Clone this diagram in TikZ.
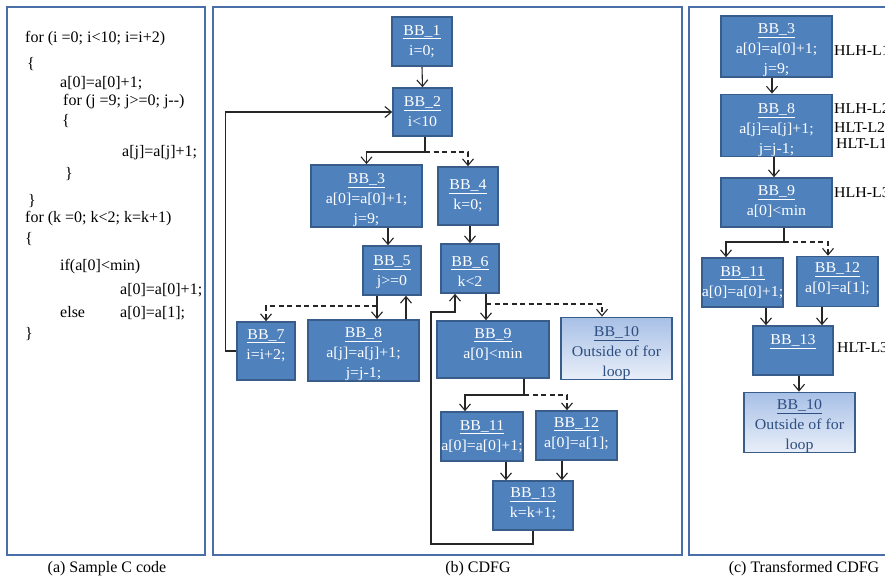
\documentclass[tikz,border=0pt]{standalone}
\usepackage{fontspec}
\setmainfont{Liberation Serif}
\newfontfamily\nodeface{Liberation Serif}[FakeStretch=1.06]
\usetikzlibrary{arrows.meta}

\definecolor{bbfill}{HTML}{4F81BD}
\definecolor{bbline}{HTML}{385D8A}
\definecolor{framecol}{HTML}{4A6EA8}
\definecolor{outtop}{HTML}{A8C0E6}
\definecolor{outbot}{HTML}{E9EFF9}
\definecolor{outtext}{HTML}{2E4F80}

\newcommand\nodefont{\nodeface\fontsize{15}{20}\selectfont}
\newcommand\codefont{\fontsize{16}{20}\selectfont}
% block title: underlined name, with a strut that sets the first line's height
\newcommand\hd[2][16pt]{\rule{0pt}{#1}\underline{BB\_#2}}

\begin{document}
\begin{tikzpicture}[x=1pt,y=-1pt,
  panel/.style={draw=framecol, line width=1.6pt},
  bb/.style={draw=bbline, fill=bbfill, line width=1.6pt, text=white,
    align=center, inner sep=0pt, font=\nodefont},
  outbox/.style={draw=bbline, line width=1.6pt, top color=outtop,
    bottom color=outbot, text=outtext, align=center, inner sep=0pt, font=\nodefont},
  sz/.style 2 args={minimum width=#1, minimum height=#2},
  lift/.style={text depth=#1},
  code/.style={anchor=base west, inner sep=0pt, font=\codefont},
  caption/.style={anchor=base, inner sep=0pt, font=\codefont},
  tag/.style={anchor=base west, inner sep=0pt, font=\nodefont},
  wire/.style={draw=black!85, line width=1.1pt},
  arr/.style={wire, -{Straight Barb[length=6.5pt,width=11pt]}},
  darr/.style={arr, dash pattern=on 5pt off 3.5pt},
]
\useasboundingbox (0,0) rectangle (885,581);
\fill[white] (0,0) rectangle (885,581);

% ---------- panel frames ----------
\draw[panel] (7,7) rectangle (205,555);
\draw[panel] (213,7) rectangle (682,555);
\draw[panel] (689,7) rectangle (900,555);

% ---------- (a) source code ----------
\node[code] (a1)  at (25,42)  {for (i =0; i<10; i=i+2)};
\node[code] (a2)  at (27,68)  {\{};
\node[code] (a3)  at (60,87)  {a[0]=a[0]+1;};
\node[code] (a4)  at (63,105) {for (j =9; j>=0; j-{}-)};
\node[code] (a5)  at (62,125) {\{};
\node[code] (a6)  at (122,156) {a[j]=a[j]+1;};
\node[code] (a7)  at (65,178) {\}};
\node[code] (a8)  at (28,205) {\}};
\node[code] (a9)  at (25,222) {for (k =0; k<2; k=k+1)};
\node[code] (a10) at (25,243) {\{};
\node[code] (a11) at (60,270) {if(a[0]<min)};
\node[code] (a12) at (120,294) {a[0]=a[0]+1;};
\node[code] (a13) at (60,317) {else};
\node[code] (a14) at (120,317) {a[0]=a[1];};
\node[code] (a15) at (25,338) {\}};

% ---------- (b) CDFG ----------
\node[bb, sz={60}{49}]  (b1)  at (422,41.5)  {\hd[10pt]{1}\\i=0;};
\node[bb, sz={59}{48}]  (b2)  at (422.5,112) {\hd[10pt]{2}\\i<10};
\node[bb, sz={111}{58}] (b3)  at (366.5,196) {\hd[19pt]{3}\\a[0]=a[0]+1;\\j=9;};
\node[bb, sz={60}{58}]  (b4)  at (468,196)   {\hd[10pt]{4}\\k=0;};
\node[bb, sz={58}{49}]  (b5)  at (392,270.5) {\hd[14pt]{5}\\j>=0};
\node[bb, sz={58}{49}]  (b6)  at (470,268.5) {\hd[15pt]{6}\\k<2};
\node[bb, sz={58}{58}, lift=20pt] (b7) at (266,351) {\hd{7}\\i=i+2;};
\node[bb, sz={111}{59}] (b8)  at (363.5,350.5) {\hd[18pt]{8}\\a[j]=a[j]+1;\\j=j-1;};
\node[bb, sz={112}{57}, lift=19pt] (b9) at (493,349.5) {\hd{9}\\a[0]<min};
\node[outbox, sz={111}{57}] (b10) at (616.5,348.5) {\hd[19pt]{10}\\Outside of for\\loop};
\node[bb, sz={82}{49}]  (b11) at (482,436.5) {\hd[10pt]{11}\\a[0]=a[0]+1;};
\node[bb, sz={81}{49}, lift=13pt] (b12) at (576.5,435.5) {\hd{12}\\a[0]=a[1];};
\node[bb, sz={80}{49}, lift=12pt] (b13) at (533,505.5) {\hd{13}\\k=k+1;};

% branch points and wire columns
\coordinate (j2)   at (425,152);
\coordinate (x35)  at (388,0);
\coordinate (j5)   at (377,306);
\coordinate (x85)  at (406,0);
\coordinate (j6)   at (486,304);
\coordinate (x610) at (602,0);
\coordinate (j9)   at (524,395);
\coordinate (x911) at (465,0);
\coordinate (x912) at (567,0);
\coordinate (x1113) at (506,0);
\coordinate (x1213) at (562,0);
\coordinate (l1)   at (431,544);
\coordinate (l2)   at (431,312);
\coordinate (x136) at (455,0);

\draw[arr] (b1.south) -- (b2.north);
\draw[arr] (b2.south -| j2) -- (j2) -| (b3.north);
\draw[darr] (j2) -| (b4.north);
\draw[arr] (b3.south -| x35) -- (b5.north -| x35);
\draw[arr] (b5.south -| j5) -- (b8.north -| j5);
\draw[darr] (j5) -| (b7.north);
\draw[arr] (b8.north -| x85) -- (b5.south -| x85);
\draw[arr] (b7.west) -- ++(-11,0) |- (b2.west);
\draw[arr] (b4.south -| b6.north) -- (b6.north);
\draw[arr] (b6.south -| j6) -- (b9.north -| j6);
\draw[darr] (j6) -| (b10.north -| x610);
\draw[wire] (b9.south -| j9) -- (j9);
\draw[arr] (j9) -| (b11.north -| x911);
\draw[darr] (j9) -| (b12.north -| x912);
\draw[arr] (b11.south -| x1113) -- (b13.north -| x1113);
\draw[arr] (b12.south -| x1213) -- (b13.north -| x1213);
\draw[arr] (b13.south) |- (l1) -- (l2) -| (b6.south -| x136);

% ---------- (c) transformed CDFG ----------
\node[bb, sz={111}{59}] (c3)  at (776.5,46.5)  {\hd[18pt]{3}\\a[0]=a[0]+1;\\j=9;};
\node[bb, sz={111}{57}] (c8)  at (776.5,125.5) {\hd[19pt]{8}\\a[j]=a[j]+1;\\j=j-1;};
\node[bb, sz={111}{49}, lift=11pt] (c9) at (776.5,202.5) {\hd[17pt]{9}\\a[0]<min};
\node[bb, sz={81}{49}, lift=10pt]  (c11) at (742.5,282.5) {\hd[17pt]{11}\\a[0]=a[0]+1;};
\node[bb, sz={81}{49}, lift=14pt]  (c12) at (837.5,281.5) {\hd{12}\\a[0]=a[1];};
\node[bb, sz={80}{49}, lift=26pt]  (c13) at (793,350.5)   {\hd[14pt]{13}};
\node[outbox, sz={111}{59}] (c10) at (799.5,422.5) {\hd[17pt]{10}\\Outside of for\\loop};

\node[tag] (t1) at (834,55)  {HLH-L1};
\node[tag] (t2) at (834,113) {HLH-L2};
\node[tag] (t3) at (834,132) {HLT-L2};
\node[tag] (t4) at (836,148) {HLT-L1};
\node[tag] (t5) at (834,197) {HLH-L3};
\node[tag] (t6) at (837,352) {HLT-L3};

\coordinate (y38)  at (772,0);
\coordinate (y89)  at (774,0);
\coordinate (k9)   at (784,242);
\coordinate (y911) at (726,0);
\coordinate (y912) at (828,0);
\coordinate (y1113) at (766,0);
\coordinate (y1213) at (822,0);
\coordinate (y1310) at (799,0);

\draw[arr] (c3.south -| y38) -- (c8.north -| y38);
\draw[arr] (c8.south -| y89) -- (c9.north -| y89);
\draw[wire] (c9.south -| k9) -- (k9);
\draw[arr] (k9) -| (c11.north -| y911);
\draw[darr] (k9) -| (c12.north -| y912);
\draw[arr] (c11.south -| y1113) -- (c13.north -| y1113);
\draw[arr] (c12.south -| y1213) -- (c13.north -| y1213);
\draw[arr] (c13.south -| y1310) -- (c10.north -| y1310);

% ---------- captions ----------
\node[caption] (capa) at (107,572) {(a) Sample C code};
\node[caption] (capb) at (478,572) {(b) CDFG};
\node[caption] (capc) at (804,572) {(c) Transformed CDFG};
\end{tikzpicture}
\end{document}
